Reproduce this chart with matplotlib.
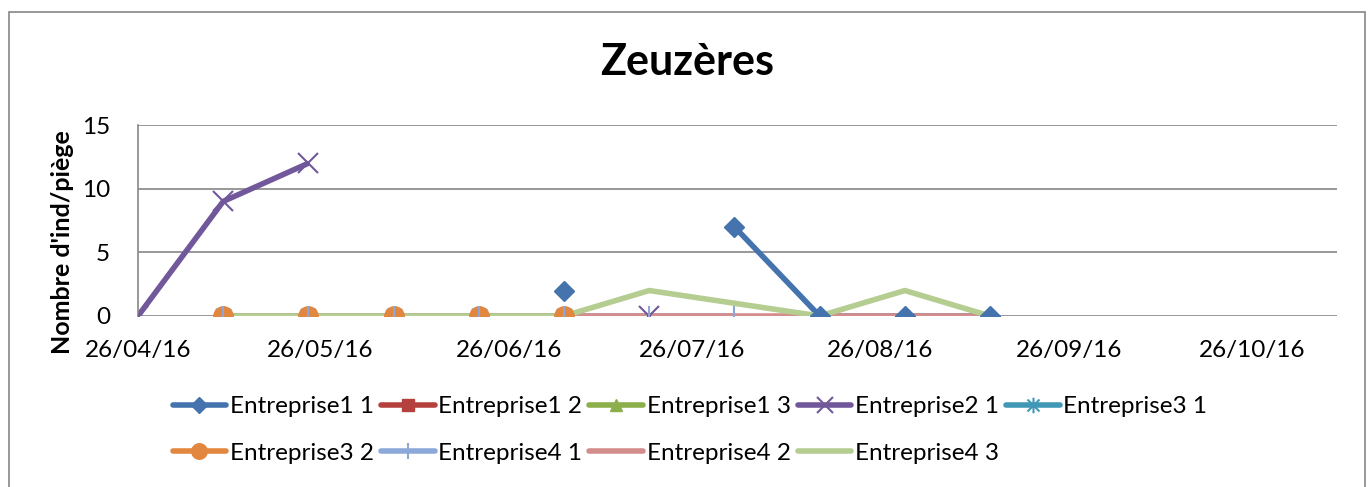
import numpy as np
import matplotlib
matplotlib.use("Agg")
import matplotlib.pyplot as plt
import matplotlib.dates as mdates
from matplotlib.path import Path
from matplotlib.patches import Rectangle
from datetime import datetime

plt.rcParams['font.family'] = ['Lato', 'DejaVu Sans']

nan = np.nan
dates = ["26/04/16", "10/05/16", "24/05/16", "07/06/16", "21/06/16", "05/07/16",
         "19/07/16", "02/08/16", "16/08/16", "30/08/16", "13/09/16"]
e1_1 = [nan, nan, nan, nan, nan, 2, nan, 7, 0, 0, 0]
e1_2 = [nan] * 11
e1_3 = [nan] * 11
e2_1 = [0, 9, 12, nan, nan, nan, 0, nan, nan, nan, nan]
e3_1 = [nan, 0, 0, 0, 0, 0, nan, nan, nan, nan, nan]
e3_2 = [nan, 0, 0, 0, 0, 0, nan, nan, nan, nan, nan]
e4_1 = [nan, 0, 0, 0, 0, 0, 0, 0, nan, nan, nan]
e4_2 = [nan, 0, 0, 0, 0, 0, 0, 0, 0, 0, 0]
e4_3 = [nan, 0, 0, 0, 0, 0, 2, 1, 0, 2, 0]

tick_dates = ["26/04/16", "26/05/16", "26/06/16", "26/07/16", "26/08/16", "26/09/16", "26/10/16"]
x_min, x_max = "26/04/16", "09/11/16"

def d(s):
    return datetime.strptime(s, "%d/%m/%y")

x = [d(s) for s in dates]

asterisk = Path([(-1, -1), (1, 1), (-1, 1), (1, -1), (0, -1.3), (0, 1.3)],
                [Path.MOVETO, Path.LINETO, Path.MOVETO, Path.LINETO, Path.MOVETO, Path.LINETO])

series = [
    ("Entreprise1 1", e1_1, "#4573AD", "D", 10, dict(mfc="#4573AD", mec="#4573AD")),
    ("Entreprise1 2", e1_2, "#B5413E", "s", 10, dict(mfc="#B5413E", mec="#B5413E")),
    ("Entreprise1 3", e1_3, "#8CAE4B", "^", 11, dict(mfc="#8CAE4B", mec="#8CAE4B")),
    ("Entreprise2 1", e2_1, "#71589A", "x", 14, dict(mec="#71589A", mew=1.5)),
    ("Entreprise3 1", e3_1, "#4198B5", asterisk, 14, dict(mec="#4198B5", mew=1.5)),
    ("Entreprise3 2", e3_2, "#E2873F", "o", 14, dict(mfc="#E2873F", mec="#E2873F")),
    ("Entreprise4 1", e4_1, "#8CA8D8", "|", 15, dict(mec="#8CA8D8", mew=1.5)),
    ("Entreprise4 2", e4_2, "#D38D8C", None, 0, {}),
    ("Entreprise4 3", e4_3, "#B5CD91", None, 0, {}),
]

fig = plt.figure(figsize=(13.70, 4.87), dpi=100)
ax = fig.add_axes([138/1370, 1-316/487, (1337-138)/1370, (316-125)/487])

lw = 4.0
handles = []
for i, (name, vals, col, mk, ms, kw) in enumerate(series):
    ax.plot(x, vals, color=col, lw=lw, solid_capstyle='butt', zorder=2 + i * 0.01)
    if mk is not None:
        ax.plot(x, vals, ls='none', marker=mk, ms=ms, zorder=3 + i * 0.01, **kw)
    h, = ax.plot([], [], color=col, lw=lw, marker=mk, ms=(ms * 0.8 if mk is not None else 0),
                 solid_capstyle='round', **kw)
    handles.append(h)

ax.set_ylim(0, 15)
ax.set_yticks([0, 5, 10, 15])
ax.set_xlim(d(x_min), d(x_max))
ax.set_xticks([d(s) for s in tick_dates])
ax.xaxis.set_major_formatter(mdates.DateFormatter("%d/%m/%y"))
ax.yaxis.grid(True, color="#868686", lw=1.2)
ax.set_axisbelow(True)
for s in ["top", "right", "bottom"]:
    ax.spines[s].set_visible(False)
ax.spines["left"].set_color("#868686")
ax.spines["left"].set_linewidth(1.2)
ax.tick_params(axis='both', length=0, labelsize=17.5, colors='black')
ax.tick_params(axis='x', pad=17)
ax.tick_params(axis='y', pad=20)

fig.text(62/1370, 1 - 242/487, "Nombre d'ind/piège", rotation=90, ha='center', va='center',
         fontsize=18, fontweight='bold')
fig.text(687/1370, 1 - 62/487, "Zeuzères", ha='center', va='center', fontsize=31, fontweight='bold')

# reorder so that the 5-column legend reads row by row
n, ncol = len(handles), 5
nrows = int(np.ceil(n / ncol))
order = [r * ncol + c for c in range(ncol) for r in range(nrows) if r * ncol + c < n]
labels = [s[0] for s in series]
fig.legend([handles[k] for k in order], [labels[k] for k in order], loc='center',
           bbox_to_anchor=(690/1370, 1 - 430/487),
           ncol=ncol, frameon=False, fontsize=17.5, handlelength=2.2, handletextpad=0.15,
           columnspacing=0.3, labelspacing=1.05)

fig.patches.append(Rectangle((9/1370, -0.05), 1356/1370, (487 - 12)/487 + 0.05,
                             transform=fig.transFigure, fill=False, edgecolor="#868686", lw=1.2))

fig.savefig("out.png", dpi=100)
